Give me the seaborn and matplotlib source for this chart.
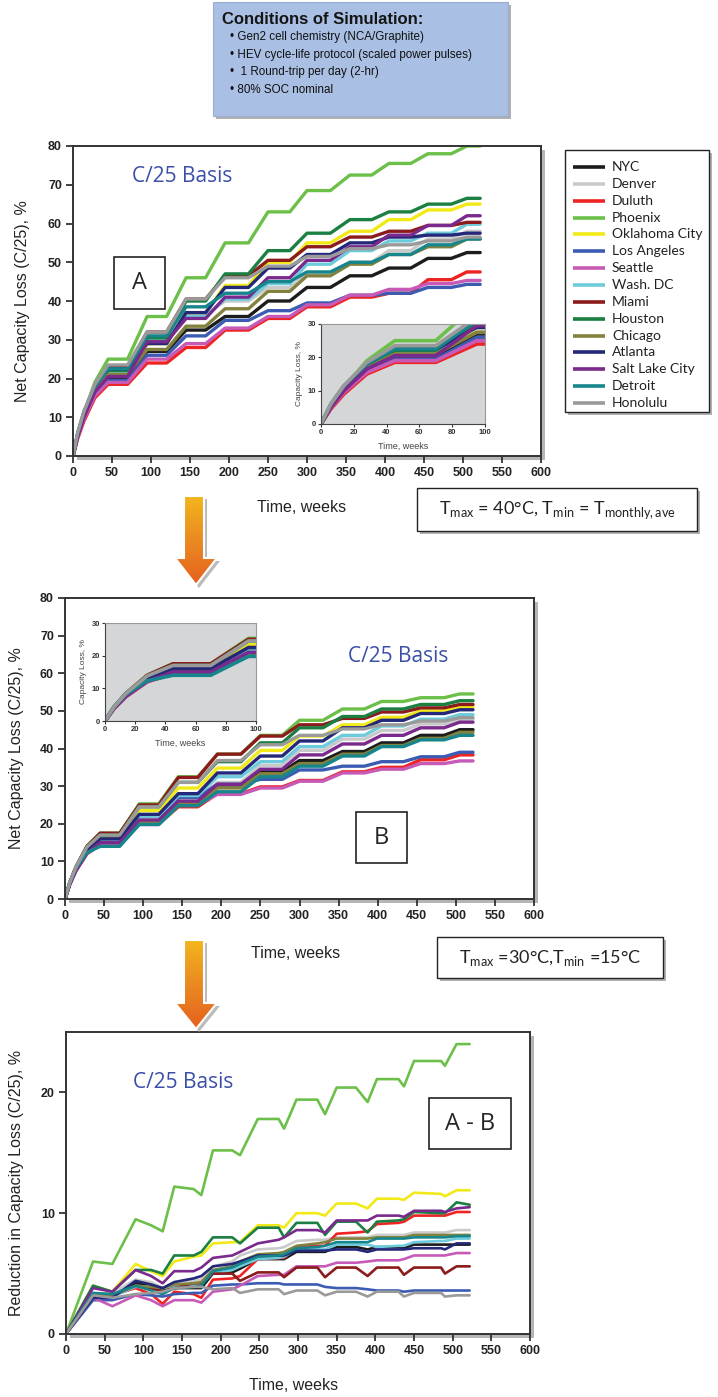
import numpy as np
import pandas as pd
import matplotlib
matplotlib.use("Agg")
import matplotlib.pyplot as plt
from matplotlib.patches import Rectangle, Polygon
import seaborn as sns

W, H = 718, 1397

cities = ["NYC", "Denver", "Duluth", "Phoenix", "Oklahoma City", "Los Angeles",
          "Seattle", "Wash. DC", "Miami", "Houston", "Chicago", "Atlanta",
          "Salt Lake City", "Detroit", "Honolulu"]
city_colors = ["#1c1c1c", "#cacaca", "#ee2424", "#6cc04a", "#f2ea18", "#3b5cb2",
               "#c65ab6", "#6dcbdc", "#8c1b1b", "#1b7f42", "#82823e", "#232878",
               "#7a2a8c", "#16868c", "#9a9a9a"]

# plateau windows (weeks) shared by panels A and B
plateau_start = [45, 95, 145, 195, 250, 300, 355, 405, 455, 505]
plateau_end = [70, 120, 170, 225, 278, 330, 383, 433, 485, 522]
early_weeks = [6, 14, 28]

# panel A: Tmax = 40C
a_early = [[5, 10, 16], [5.5, 11, 17.5], [4.5, 9, 15], [5.5, 11, 19], [5.5, 10.5, 17],
           [5, 10, 16], [4.8, 9.5, 15.5], [5.5, 11, 17.5], [5.5, 11, 18], [5.5, 11, 17.5],
           [5.5, 10.5, 17], [5.5, 11, 18], [5, 10, 16.5], [6, 11.5, 18], [6, 11.5, 18.5]]
a_levels = [
    [20, 27, 32.5, 36, 40, 43.5, 46.5, 48.5, 51, 52.5],        # NYC
    [22, 30.5, 36.5, 40, 43.5, 47, 50, 53, 56, 58],            # Denver
    [18.5, 24, 28, 32.5, 35.5, 38.5, 41, 42, 45.5, 47.5],      # Duluth
    [25, 36, 46, 55, 63, 68.5, 72.5, 75.5, 78, 80],            # Phoenix
    [21, 29, 37, 44, 50, 55, 58, 61, 63.5, 65],                # Oklahoma City
    [19.5, 26, 31, 35, 37.5, 39.5, 41.5, 42, 43.5, 44.3],      # Los Angeles
    [19, 25, 29, 33, 36, 39, 41.5, 43, 44.5, 45.3],            # Seattle
    [22, 30, 36, 40.5, 44.5, 49.5, 53, 55.5, 57.5, 59.8],      # Wash. DC
    [23, 32, 40.5, 46.5, 50.5, 54, 56.5, 58, 59.5, 60.3],      # Miami
    [22, 30.5, 40, 47, 53, 57.5, 61, 63, 65, 66.5],            # Houston
    [21, 27.5, 33.5, 38, 42.5, 46.5, 49.5, 52, 54, 56],        # Chicago
    [22.5, 29, 37, 43.5, 48.5, 52, 55, 56.5, 57, 57.5],        # Atlanta
    [20.5, 29.5, 35.5, 41, 46, 50.5, 54, 57, 59.5, 62],        # Salt Lake City
    [22.5, 31, 38.5, 42, 45, 47.5, 50, 52, 54.5, 56],          # Detroit
    [23.5, 32, 40.5, 46, 49, 51.5, 53.5, 54.5, 55.5, 56.5],    # Honolulu
]

# panel B: Tmax = 30C, Tmin = 15C
b_early = [[4, 7.8, 12.3], [4, 7.8, 12.5], [3.8, 7.5, 12], [4.3, 8.5, 14], [4.2, 8.2, 13.3],
           [4.2, 8.2, 13], [3.8, 7.5, 12], [4, 7.8, 12.7], [4.3, 8.5, 14], [4.3, 8.5, 13.8],
           [4, 7.7, 12.3], [4.1, 8, 13], [3.9, 7.6, 12.2], [4.3, 8.2, 12.3], [4.3, 8.5, 13.8]]
b_levels = [
    [15, 21.5, 26.8, 30.3, 33.8, 36.8, 39.2, 41.5, 43.5, 45],       # NYC
    [15.5, 21.5, 26.5, 31, 35.5, 39.5, 42.5, 44.8, 46.5, 47.7],     # Denver
    [14.5, 20, 24.5, 28, 29.8, 31.5, 33.8, 35, 37, 38.3],           # Duluth
    [17.5, 25.3, 32.5, 38.5, 43.5, 47.5, 50.5, 52.5, 53.5, 54.5],   # Phoenix
    [16.5, 23.5, 29.5, 34.8, 39.5, 43.3, 46.3, 48.3, 50, 51],       # Oklahoma City
    [15.5, 22, 27, 30.5, 31.8, 34.3, 35.3, 36.5, 37.8, 39],         # Los Angeles
    [14.5, 19.8, 25, 27.8, 29.5, 31.3, 33.5, 34.5, 36, 36.7],       # Seattle
    [15.5, 22, 27.5, 32.5, 36.5, 40.5, 43.5, 46, 47.8, 49],         # Wash. DC
    [17.5, 25, 32.3, 38.5, 43.3, 46.3, 48, 49.7, 50.8, 51.7],       # Miami
    [17, 24.5, 31, 36.5, 41.5, 45.5, 48.5, 50.5, 51.7, 52.7],       # Houston
    [15, 20.5, 25.5, 29.5, 33.3, 36, 38.5, 40.8, 42.7, 44.3],       # Chicago
    [16, 22.5, 28, 33.5, 38, 42, 45.5, 47.5, 49.3, 50.3],           # Atlanta
    [15, 21, 26, 30.5, 34.5, 38.3, 41.2, 43.5, 45.5, 47],           # Salt Lake City
    [14, 19.8, 24.8, 28.5, 32.5, 35.3, 38, 40.5, 42.3, 43.5],       # Detroit
    [17, 24.5, 31, 36.8, 41, 43.5, 45.2, 46.3, 47.3, 48.2],         # Honolulu
]

# panel A - B
c_weeks = [0, 35, 60, 90, 110, 125, 140, 165, 175, 190, 215, 225, 248, 275, 282,
           298, 325, 335, 350, 375, 390, 402, 430, 437, 450, 485, 490, 505, 522]
c_values = [
    [0, 3, 3.2, 4.2, 4.1, 3.6, 3.8, 3.8, 3.8, 5, 5.1, 5.4, 6.2, 6.2, 6.2, 6.8, 6.8, 6.8, 7.2, 7.2, 7, 7.2, 7.2, 7.1, 7.4, 7.4, 7.4, 7.4, 7.4],
    [0, 3.3, 3.4, 4.5, 4.3, 3.8, 4.2, 4.4, 4.5, 5.6, 6.0, 6.5, 7, 7.1, 7.2, 7.7, 7.8, 7.8, 8, 8, 8, 8.2, 8.2, 8.2, 8.4, 8.4, 8.4, 8.6, 8.6],
    [0, 3.3, 3.2, 3.8, 3.3, 2.5, 3.5, 3.3, 3.0, 4.5, 4.6, 4.8, 6.2, 6.3, 6.3, 7.2, 7.3, 7.3, 8.3, 8.4, 8.5, 9.1, 9.2, 9.3, 9.8, 9.8, 9.8, 10.1, 10.1],
    [0, 6, 5.8, 9.5, 9.0, 8.5, 12.2, 12, 11.5, 15.2, 15.2, 14.8, 17.8, 17.8, 17, 19.4, 19.4, 18.2, 20.4, 20.4, 19.2, 21.1, 21.1, 20.5, 22.6, 22.6, 22.2, 24, 24],
    [0, 4, 3.5, 5.8, 5.2, 4.8, 6, 6.4, 6.5, 7.5, 7.6, 7.6, 9, 9, 8.8, 10, 10, 9.8, 10.8, 10.8, 10.4, 11.2, 11.2, 11.1, 11.7, 11.6, 11.4, 11.9, 11.9],
    [0, 2.8, 2.8, 3.3, 3.2, 3.1, 3.3, 3.4, 3.4, 4, 4.1, 4.1, 4.2, 4.2, 4.1, 4.1, 4.1, 3.9, 3.8, 3.8, 3.7, 3.6, 3.6, 3.5, 3.6, 3.6, 3.6, 3.6, 3.6],
    [0, 3, 2.3, 3.2, 2.8, 2.3, 2.8, 2.8, 2.6, 3.5, 3.7, 4, 4.8, 4.9, 4.9, 5.6, 5.6, 5.6, 5.9, 5.9, 6, 6.1, 6.1, 6.2, 6.5, 6.5, 6.5, 6.7, 6.7],
    [0, 3.2, 3.1, 3.9, 3.9, 3.8, 4, 4.1, 4.2, 5, 5.3, 5.6, 6.2, 6.3, 6.4, 7, 7, 7, 7.4, 7.4, 7.4, 7.2, 7.3, 7.3, 7.6, 7.7, 7.7, 7.9, 7.9],
    [0, 3.2, 3.2, 4, 3.8, 3.5, 3.8, 4.2, 4.2, 5, 5, 4.4, 5.1, 5.1, 4.7, 5.5, 5.5, 4.7, 5.5, 5.5, 4.8, 5.5, 5.5, 4.9, 5.5, 5.5, 5, 5.6, 5.6],
    [0, 4, 3.5, 5.3, 5.3, 5, 6.5, 6.5, 6.8, 8, 8, 7.5, 8.8, 8.8, 8, 9.2, 9.2, 8.2, 9.3, 9.3, 8.4, 9.3, 9.4, 9.5, 10.1, 10, 10, 10.9, 10.7],
    [0, 3.2, 3.2, 4, 3.9, 3.8, 4.1, 4.2, 4.3, 5.3, 5.6, 6, 6.6, 6.7, 6.8, 7.3, 7.5, 7.6, 7.9, 7.9, 7.9, 8, 8, 8, 8.2, 8.2, 8.2, 8.2, 8.2],
    [0, 3, 3, 4.4, 4.1, 3.8, 4.3, 4.6, 4.8, 5.6, 5.8, 6, 6.5, 6.5, 6.5, 6.9, 6.9, 6.9, 7, 7, 6.8, 7, 7, 7, 7.1, 7.1, 7, 7.5, 7.5],
    [0, 3.8, 3.5, 5.3, 4.8, 4.2, 5.2, 5.2, 5.5, 6.3, 6.5, 6.8, 7.5, 7.8, 8, 8.6, 8.6, 8.4, 9.4, 9.4, 9.4, 9.8, 9.8, 9.7, 10.2, 10.2, 10.1, 10.4, 10.5],
    [0, 3.4, 3.3, 4, 3.6, 3.3, 3.8, 3.9, 4, 5.2, 5.5, 5.8, 6.4, 6.5, 6.6, 7.1, 7.2, 7.3, 7.6, 7.6, 7.6, 7.9, 7.9, 7.9, 8, 8, 8, 8.1, 8.1],
    [0, 3.2, 3, 3.3, 3.4, 3.5, 3.8, 3.9, 3.9, 3.7, 3.8, 3.4, 3.7, 3.7, 3.3, 3.6, 3.6, 3.2, 3.5, 3.5, 3.1, 3.5, 3.5, 3.1, 3.4, 3.4, 3.1, 3.2, 3.2],
]

conditions = ["Gen2 cell chemistry (NCA/Graphite)",
              "HEV cycle-life protocol (scaled power pulses)",
              " 1 Round-trip per day (2-hr)",
              "80% SOC nominal"]


def staircase_frame(early, levels):
    rows = []
    for city, e, lv in zip(cities, early, levels):
        rows.append((city, 0, 0.0))
        for w, v in zip(early_weeks, e):
            rows.append((city, w, v))
        for s, t, v in zip(plateau_start, plateau_end, lv):
            rows.append((city, s, v))
            rows.append((city, t, v))
    return pd.DataFrame(rows, columns=["city", "week", "loss"])


def diff_frame():
    rows = []
    for city, vals in zip(cities, c_values):
        assert len(vals) == len(c_weeks), city
        for w, v in zip(c_weeks, vals):
            rows.append((city, w, v))
    return pd.DataFrame(rows, columns=["city", "week", "loss"])


def px_rect(x0, y0, x1, y1):
    return [x0 / W, 1 - y1 / H, (x1 - x0) / W, (y1 - y0) / H]


def draw_lines(ax, df, lw):
    sns.lineplot(data=df, x="week", y="loss", hue="city", hue_order=cities,
                 palette=palette, estimator=None, sort=False, linewidth=lw,
                 legend=False, ax=ax)
    ax.set_xlabel("")
    ax.set_ylabel("")


def style_main(ax, ymax, yticks):
    ax.set_xlim(0, 600)
    ax.set_ylim(0, ymax)
    ax.set_xticks(range(0, 601, 50))
    ax.set_yticks(yticks)
    ax.tick_params(direction="out", length=5, width=1.2, labelsize=9, pad=3,
                   bottom=True, left=True, colors="#222222")
    for lab in ax.get_xticklabels() + ax.get_yticklabels():
        lab.set_fontweight("bold")
    for s in ax.spines.values():
        s.set_color("#333333")
        s.set_linewidth(1.4)


def style_inset(ax):
    ax.set_facecolor("#d5d6d8")
    ax.set_xlim(0, 100)
    ax.set_ylim(0, 30)
    ax.set_xticks(range(0, 101, 20))
    ax.set_yticks([0, 10, 20, 30])
    ax.tick_params(direction="out", length=2, width=0.8, labelsize=5.5, pad=1.5,
                   bottom=True, left=True, colors="#333333")
    for lab in ax.get_xticklabels() + ax.get_yticklabels():
        lab.set_fontweight("bold")
    for s in ax.spines.values():
        s.set_color("#999999")
        s.set_linewidth(0.8)
    ax.spines["left"].set_color("#444444")
    ax.spines["bottom"].set_color("#444444")
    ax.set_xlabel("Time, weeks", fontsize=6.5, color="#444444", labelpad=4)
    ax.set_ylabel("Capacity Loss, %", fontsize=6, color="#444444", labelpad=3)


def shadow_box(axo, x0, y0, x1, y1, face="white", edge="#222222", lw=1.0, off=4):
    axo.add_patch(Rectangle((x0 + off, y0 + off), x1 - x0, y1 - y0,
                            facecolor="#b0b0b0", edgecolor="none", zorder=1))
    axo.add_patch(Rectangle((x0, y0), x1 - x0, y1 - y0, facecolor=face,
                            edgecolor=edge, linewidth=lw, zorder=2))


def arrow(axo, top, head_top, tip):
    pts = [(184, top), (204, top), (204, head_top), (217, head_top),
           (196, tip), (175, head_top), (184, head_top)]
    sh = Polygon([(x + 3, y + 3) for x, y in pts], closed=True,
                 facecolor="#bbbbbb", edgecolor="none", zorder=3)
    axo.add_patch(sh)
    poly = Polygon(pts, closed=True, facecolor="none", edgecolor="white",
                   linewidth=1.5, zorder=5)
    axo.add_patch(poly)
    grad = np.linspace(0, 1, 100).reshape(-1, 1)
    cmap = matplotlib.colors.LinearSegmentedColormap.from_list(
        "arr", ["#f3b51d", "#ea8a22", "#e6601e"])
    im = axo.imshow(grad, cmap=cmap, extent=[175, 217, tip, top], aspect="auto",
                    zorder=4)
    im.set_clip_path(poly)


sns.set_theme(style="white")
plt.rcParams["font.family"] = ["Liberation Sans", "DejaVu Sans"]
plt.rcParams["mathtext.fontset"] = "custom"
plt.rcParams["mathtext.rm"] = "Lato"

palette = dict(zip(cities, city_colors))
df_a = staircase_frame(a_early, a_levels)
df_b = staircase_frame(b_early, b_levels)
df_c = diff_frame()

fig = plt.figure(figsize=(W / 100, H / 100), dpi=100)

bg = fig.add_axes([0, 0, 1, 1], zorder=0)
bg.set_xlim(0, W)
bg.set_ylim(H, 0)
bg.axis("off")
for box in [(73, 146, 541, 456), (65, 598, 534, 899), (66, 1032, 530, 1334)]:
    bg.add_patch(Rectangle((box[0] + 4, box[1] + 4), box[2] - box[0], box[3] - box[1],
                           facecolor="#b5b5b5", edgecolor="none"))

# panel A
ax_a = fig.add_axes(px_rect(73, 146, 541, 456), zorder=2)
draw_lines(ax_a, df_a, 2.4)
style_main(ax_a, 80, range(0, 81, 10))
ins_a = fig.add_axes(px_rect(321, 324, 485, 424), zorder=3)
draw_lines(ins_a, df_a, 2.6)
style_inset(ins_a)

# panel B
ax_b = fig.add_axes(px_rect(65, 598, 534, 899), zorder=2)
draw_lines(ax_b, df_b, 2.4)
style_main(ax_b, 80, range(0, 81, 10))
ins_b = fig.add_axes(px_rect(105, 623, 256, 721), zorder=3)
draw_lines(ins_b, df_b, 2.6)
style_inset(ins_b)

# panel A - B
ax_c = fig.add_axes(px_rect(66, 1032, 530, 1334), zorder=2)
draw_lines(ax_c, df_c, 1.9)
style_main(ax_c, 25, [0, 10, 20])

fg = fig.add_axes([0, 0, 1, 1], zorder=10)
fg.set_xlim(0, W)
fg.set_ylim(H, 0)
fg.axis("off")
fg.patch.set_visible(False)

# conditions box
shadow_box(fg, 213, 2, 508, 116, face="#a9bfe3", edge="#9aaed0", lw=0.8, off=3)
fg.text(222, 19, "Conditions of Simulation:", fontsize=12, fontweight="bold",
        va="center", zorder=6, color="#151515")
for i, line in enumerate(conditions):
    fg.text(230, 37 + i * 17.7, "\u2022 " + line, fontsize=8.4, va="center",
            zorder=6, color="#111111")

# legend
shadow_box(fg, 565, 150, 709, 412, lw=1.0, off=3)
for i, (city, col) in enumerate(zip(cities, city_colors)):
    y = 167 + i * 16.85
    fg.plot([573, 605], [y, y], color=col, linewidth=2.6, solid_capstyle="butt", zorder=6)
    fg.text(612, y, city, fontsize=10, family=["Lato", "DejaVu Sans"], va="center",
            color="#222222", zorder=6)

# panel texts
blue = "#3b4ea8"
basis_font = ["Open Sans", "DejaVu Sans"]
fg.text(132, 176, "C/25 Basis", fontsize=15, color=blue, family=basis_font, va="center")
fg.text(348, 656, "C/25 Basis", fontsize=15, color=blue, family=basis_font, va="center")
fg.text(133, 1083, "C/25 Basis", fontsize=15, color=blue, family=basis_font, va="center")

for (x0, y0, x1, y1, lab) in [(114, 257, 165, 309, "A"), (356, 812, 407, 863, "B"),
                              (429, 1098, 511, 1149, "A - B")]:
    fg.add_patch(Rectangle((x0, y0), x1 - x0, y1 - y0, facecolor="white",
                           edgecolor="#222222", linewidth=1.2, zorder=4))
    fg.text((x0 + x1) / 2, (y0 + y1) / 2, lab, fontsize=17, family=basis_font,
            ha="center", va="center", zorder=5)

# axis labels
fg.text(23, 301, "Net Capacity Loss (C/25), %", rotation=90, fontsize=11.5,
        ha="center", va="center", color="#222222")
fg.text(17, 748, "Net Capacity Loss (C/25), %", rotation=90, fontsize=11.5,
        ha="center", va="center", color="#222222")
fg.text(17, 1183, "Reduction in Capacity Loss (C/25), %", rotation=90, fontsize=11.5,
        ha="center", va="center", color="#222222")
fg.text(302, 508, "Time, weeks", fontsize=11.5, ha="center", va="center", color="#222222")
fg.text(296, 953, "Time, weeks", fontsize=11.5, ha="center", va="center", color="#222222")
fg.text(294, 1386, "Time, weeks", fontsize=11.5, ha="center", va="center", color="#222222")

# temperature boxes
shadow_box(fg, 417, 488, 697, 531, lw=1.0, off=3)
fg.text(557, 510, r"T$_{\rm max}$ = 40°C, T$_{\rm min}$ = T$_{\rm monthly,ave}$",
        fontsize=13, family=["Lato", "DejaVu Sans"], ha="center", va="center",
        zorder=6, color="#222222")
shadow_box(fg, 437, 937, 663, 978, lw=1.0, off=3)
fg.text(550, 958, r"T$_{\rm max}$ =30°C,T$_{\rm min}$ =15°C",
        fontsize=13, family=["Lato", "DejaVu Sans"], ha="center", va="center",
        zorder=6, color="#222222")

# arrows
arrow(fg, 496, 558, 585)
arrow(fg, 940, 1003, 1029)

fig.savefig("out.png", dpi=100)
